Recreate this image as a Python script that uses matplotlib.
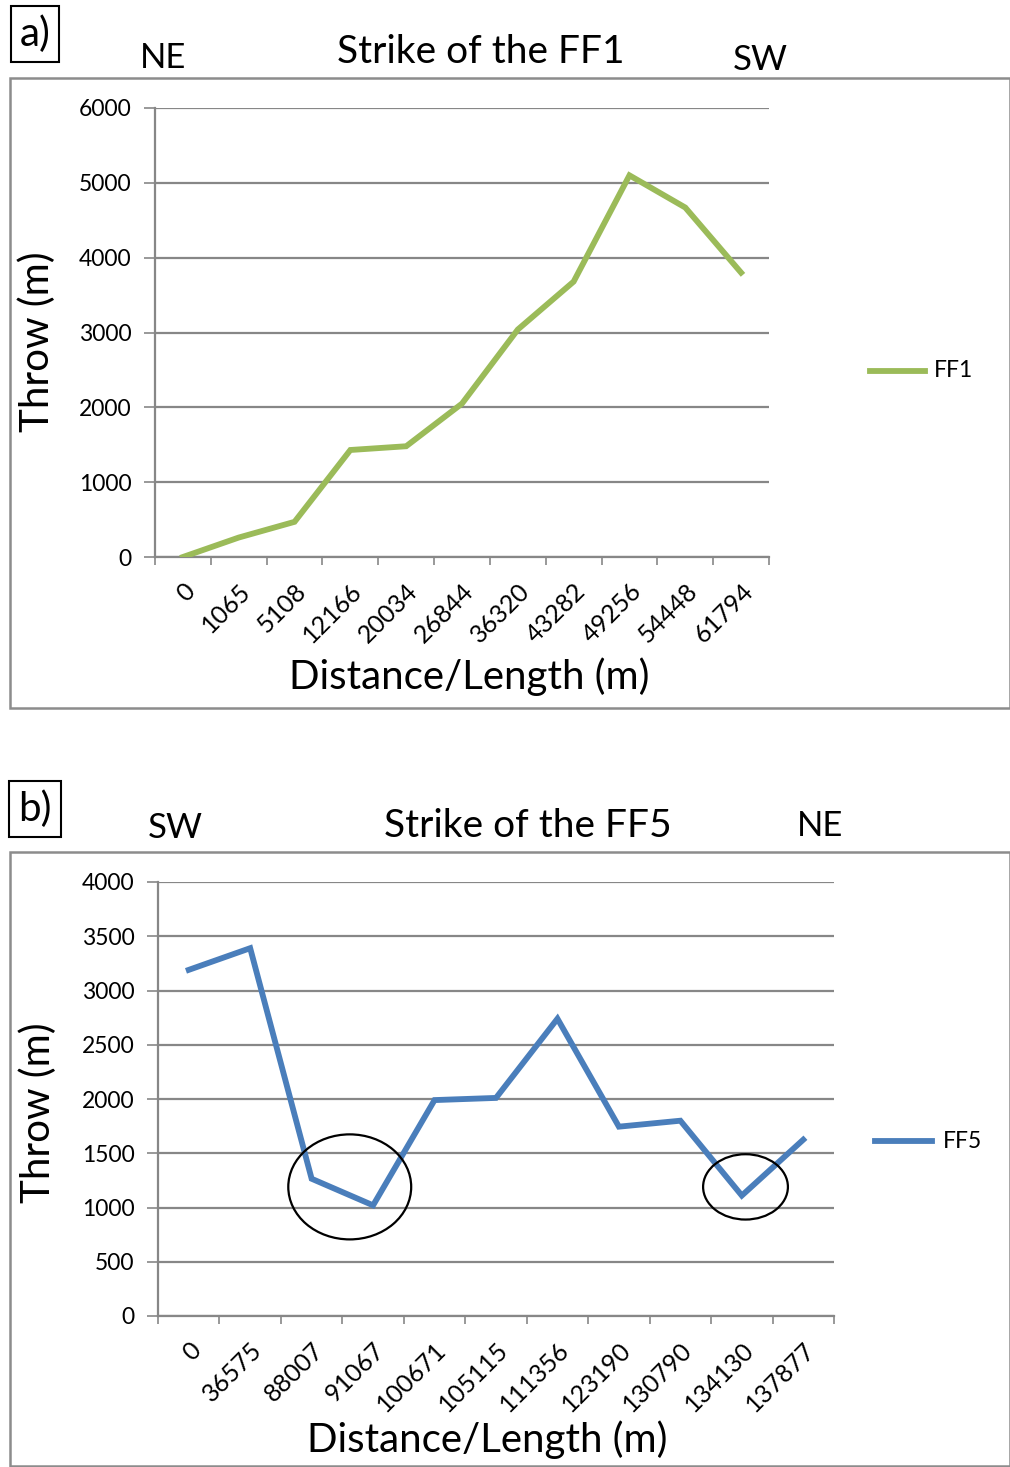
import numpy as np
import matplotlib
matplotlib.use("Agg")
import matplotlib.pyplot as plt
from matplotlib.patches import Ellipse, Rectangle

plt.rcParams['font.family'] = ['Lato', 'DejaVu Sans']

# Panel a data: FF1 throw along strike
ff1_dist = ['0', '1065', '5108', '12166', '20034', '26844', '36320',
            '43282', '49256', '54448', '61794']
ff1_throw = [0, 260, 470, 1430, 1480, 2050, 3040, 3680, 5100, 4670, 3800]

# Panel b data: FF5 throw along strike
ff5_dist = ['0', '36575', '88007', '91067', '100671', '105115', '111356',
            '123190', '130790', '134130', '137877']
ff5_throw = [3190, 3390, 1265, 1020, 1990, 2010, 2740, 1745, 1800, 1110, 1625]

W, H = 1010, 1467
fig = plt.figure(figsize=(W / 100, H / 100), dpi=100)

GRID = '#878787'


def px_axes(left, top, right, bottom):
    return fig.add_axes([left / W, 1 - bottom / H, (right - left) / W, (bottom - top) / H])


def fx(x):
    return x / W


def fy(y):
    return 1 - y / H


def draw_panel(ax, cats, vals, ymax, ystep, color):
    n = len(cats)
    x = np.arange(n) + 0.5
    ax.plot(x, vals, color=color, lw=4.2, solid_joinstyle='miter', zorder=3)
    ax.set_xlim(0, n)
    ax.set_ylim(0, ymax)
    ax.set_yticks(np.arange(0, ymax + 1, ystep))
    ax.yaxis.grid(True, color=GRID, lw=1.6)
    ax.set_axisbelow(True)
    ax.set_xticks(np.arange(0, n + 1))
    ax.set_xticklabels([])
    ax.set_xticks(x, minor=True)
    ax.set_xticklabels(cats, minor=True, rotation=45, ha='right', va='top',
                       rotation_mode='anchor', fontsize=18)
    ax.tick_params(axis='x', which='major', length=6, width=1.2, color=GRID)
    ax.tick_params(axis='x', which='minor', length=0, pad=16)
    ax.tick_params(axis='y', length=8, width=1.2, color=GRID, labelsize=16.5, pad=9)
    for s in ['top', 'right']:
        ax.spines[s].set_visible(False)
    for s in ['left', 'bottom']:
        ax.spines[s].set_color(GRID)
        ax.spines[s].set_linewidth(1.6)
    ax.set_facecolor('none')
    return ax


def panel_label(x, y, s):
    fig.text(fx(x), fy(y), s, fontsize=29, ha='center', va='center',
             bbox=dict(boxstyle='square,pad=0.22', fc='white', ec='black', lw=1.5))


# ---------- panel a ----------
fig.patches.append(Rectangle((fx(10), fy(708)), fx(1010) - fx(10), fy(78) - fy(708),
                             transform=fig.transFigure, fill=False,
                             edgecolor='#8c8c8c', lw=1.8))
axa = px_axes(155, 108, 769, 557)
draw_panel(axa, ff1_dist, ff1_throw, 6000, 1000, '#9bbb59')
panel_label(35, 34, 'a)')
fig.text(fx(163), fy(58), 'NE', fontsize=25, ha='center', va='center')
fig.text(fx(481), fy(52), 'Strike of the FF1', fontsize=28, ha='center', va='center')
fig.text(fx(760), fy(60), 'SW', fontsize=25, ha='center', va='center')
fig.text(fx(37), fy(342), 'Throw (m)', fontsize=29, rotation=90, ha='center', va='center')
fig.text(fx(469), fy(677), 'Distance/Length (m)', fontsize=29, ha='center', va='center')
fig.lines.append(plt.Line2D([fx(870), fx(925)], [fy(371), fy(371)],
                            transform=fig.transFigure, color='#9bbb59', lw=4.2))
fig.text(fx(934), fy(371), 'FF1', fontsize=16.5, ha='left', va='center')

# ---------- panel b ----------
fig.patches.append(Rectangle((fx(10), fy(1466)), fx(1010) - fx(10), fy(852) - fy(1466),
                             transform=fig.transFigure, fill=False,
                             edgecolor='#8c8c8c', lw=1.8))
axb = px_axes(158, 882, 834, 1316)
draw_panel(axb, ff5_dist, ff5_throw, 4000, 500, '#4a7ebb')
axb.add_patch(Ellipse((3.12, 1190), 2.0, 968, fill=False, ec='black', lw=1.6, zorder=4))
axb.add_patch(Ellipse((9.56, 1190), 1.38, 602, fill=False, ec='black', lw=1.6, zorder=4))
panel_label(35, 809, 'b)')
fig.text(fx(175), fy(828), 'SW', fontsize=25, ha='center', va='center')
fig.text(fx(528), fy(826), 'Strike of the FF5', fontsize=28, ha='center', va='center')
fig.text(fx(820), fy(826), 'NE', fontsize=25, ha='center', va='center')
fig.text(fx(38), fy(1113), 'Throw (m)', fontsize=29, rotation=90, ha='center', va='center')
fig.text(fx(487), fy(1440), 'Distance/Length (m)', fontsize=29, ha='center', va='center')
fig.lines.append(plt.Line2D([fx(875), fx(932)], [fy(1141), fy(1141)],
                            transform=fig.transFigure, color='#4a7ebb', lw=4.2))
fig.text(fx(943), fy(1141), 'FF5', fontsize=16.5, ha='left', va='center')

fig.savefig('out.png', dpi=100)
